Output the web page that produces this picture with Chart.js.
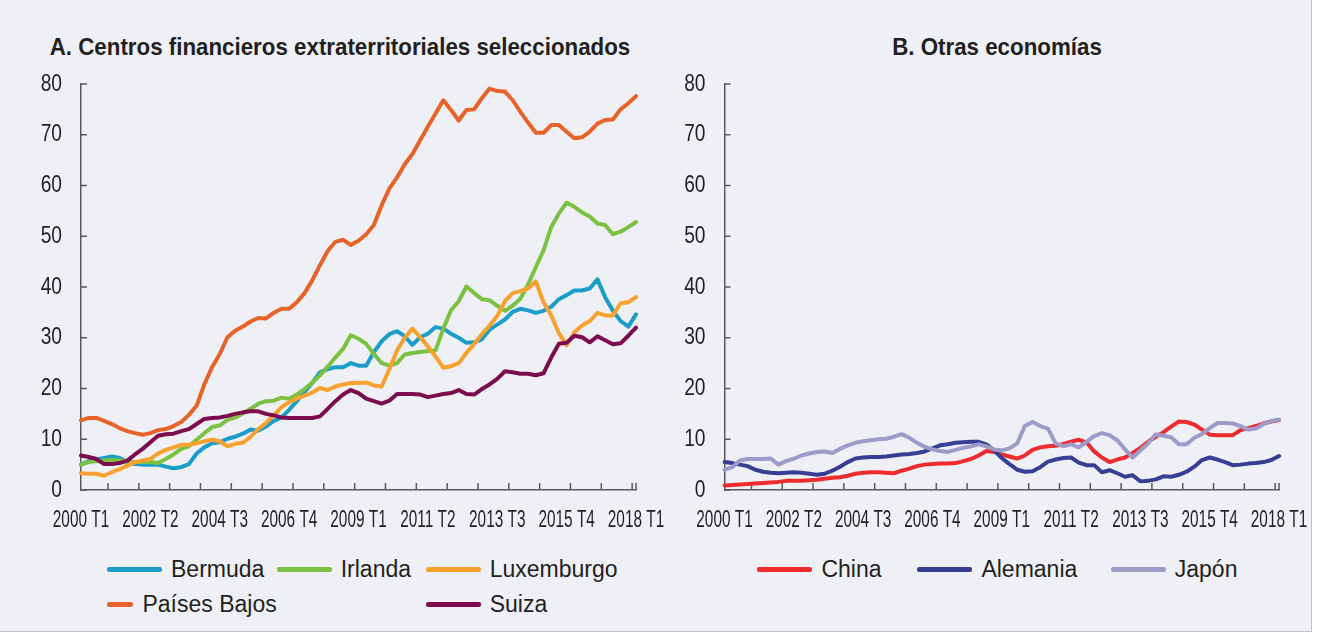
<!DOCTYPE html>
<html>
<head>
<meta charset="utf-8">
<script src="https://cdn.jsdelivr.net/npm/chart.js@4.4.1/dist/chart.umd.min.js"></script>
<style>
  body {
    margin: 0;
    width: 1319px;
    height: 636px;
    overflow: hidden;
    position: relative;
    background: #ffffff;
    font-family: "Liberation Sans", Arial, sans-serif;
    color: #231f20;
  }
  .frame {
    position: absolute;
    left: 0;
    top: 0;
    width: 1311px;
    height: 631px;
    background: #eef0f5;
    border-right: 1px solid #bfc1c6;
    border-bottom: 1px solid #bfc1c6;
  }
  .title {
    position: absolute;
    top: 33px;
    font-weight: bold;
    font-size: 24px;
    line-height: 28px;
    text-align: center;
    white-space: nowrap;
    transform: scaleX(0.93);
  }
  .panel { position: absolute; top: 0; }
  .legend {
    position: absolute;
    top: 552px;
    display: grid;
    grid-auto-rows: 35px;
    font-size: 23px;
  }
  .legend .item { display: flex; align-items: center; white-space: nowrap; }
  .legend .swatch {
    display: inline-block;
    width: 55px;
    height: 4.5px;
    border-radius: 2px;
    margin-right: 9px;
  }
</style>
</head>
<body>
<div class="frame"></div>
<div class="title" style="left:0; width:680px;">A. Centros financieros extraterritoriales seleccionados</div>
<div class="title" style="left:660px; width:674px;">B. Otras economías</div>

<div class="panel" style="left:0;"><canvas id="chartA" width="680" height="545"></canvas></div>
<div class="panel" style="left:640px;"><canvas id="chartB" width="670" height="545"></canvas></div>

<div class="legend" id="legendA" style="left:107px; grid-template-columns:169.7px 149px auto;"></div>
<div class="legend" id="legendB" style="left:757.4px; grid-template-columns:160px 193.4px auto;"></div>

<script>
// quarterly categories 2000 T1 .. 2018 T1
const quarters = [];
for (let yr = 2000; yr <= 2018; yr++) {
  for (let q = 1; q <= 4; q++) {
    if (yr === 2018 && q > 1) break;
    quarters.push(yr + " T" + q);
  }
}
const labelEvery = 9;
const yMax = 80;
const yStep = 10;

// A. Centros financieros extraterritoriales seleccionados
const bermuda = [
  5.0, 5.7, 6.0, 6.3, 6.6, 6.3, 5.5, 5.1, 5.0, 5.0, 5.0, 4.6, 4.3, 4.5, 5.1, 7.2, 8.4, 9.2,
  9.4, 10.1, 10.5, 11.1, 11.9, 11.7, 12.5, 13.6, 14.3, 15.8, 17.5, 19.3, 21.1, 23.2, 23.8, 24.2, 24.2, 25.0,
  24.5, 24.5, 27.2, 29.3, 30.7, 31.3, 30.3, 28.6, 30.1, 30.8, 32.1, 31.8, 30.8, 30.0, 29.0, 29.1, 29.7, 31.6,
  32.6, 33.6, 35.1, 35.7, 35.4, 34.9, 35.3, 36.1, 37.6, 38.4, 39.3, 39.3, 39.7, 41.5, 38.0, 35.3, 33.3, 32.2, 34.6
];
const irlanda = [
  5.0, 5.5, 5.7, 5.8, 5.9, 5.8, 5.6, 5.5, 5.5, 5.5, 5.3, 6.1, 7.0, 8.1, 8.6, 9.9, 11.2, 12.4,
  12.7, 13.8, 14.3, 15.1, 16.0, 17.0, 17.5, 17.6, 18.2, 18.0, 18.8, 19.9, 21.1, 22.6, 24.3, 26.1, 27.8, 30.5,
  29.8, 28.8, 26.8, 25.0, 24.5, 25.0, 26.7, 27.0, 27.2, 27.4, 27.5, 31.8, 35.4, 37.2, 40.1, 38.8, 37.6, 37.4,
  36.3, 35.3, 36.3, 37.7, 40.5, 43.9, 47.2, 51.8, 54.5, 56.6, 55.8, 54.7, 53.9, 52.5, 52.2, 50.4, 50.9, 51.8, 52.8
];
const luxemburgo = [
  3.3, 3.2, 3.2, 2.8, 3.5, 4.1, 4.8, 5.5, 5.8, 6.1, 7.2, 7.9, 8.4, 8.9, 8.9, 9.2, 9.6, 9.9,
  9.6, 8.6, 9.1, 9.3, 10.5, 12.0, 13.2, 14.7, 16.3, 17.3, 18.0, 18.6, 19.2, 20.1, 19.7, 20.4, 20.8, 21.1,
  21.1, 21.2, 20.6, 20.4, 23.8, 27.5, 30.0, 31.8, 30.1, 28.3, 26.3, 24.1, 24.4, 25.0, 27.0, 28.8, 30.7, 32.4,
  34.3, 37.2, 38.8, 39.2, 39.7, 41.1, 37.0, 34.4, 30.9, 28.5, 31.1, 32.4, 33.3, 34.9, 34.4, 34.4, 36.8, 37.0, 38.0
];
const paisesBajos = [
  13.7, 14.2, 14.2, 13.6, 13.0, 12.2, 11.6, 11.2, 10.9, 11.2, 11.8, 12.0, 12.6, 13.4, 14.8, 16.6, 20.8, 24.2,
  26.8, 30.1, 31.4, 32.2, 33.2, 33.9, 33.8, 34.9, 35.7, 35.7, 37.0, 38.8, 41.3, 44.3, 47.1, 48.9, 49.3, 48.3,
  49.1, 50.4, 52.2, 56.1, 59.4, 61.6, 64.2, 66.2, 68.9, 71.6, 74.2, 76.8, 74.9, 72.8, 74.9, 75.0, 77.2, 79.1,
  78.6, 78.5, 76.8, 74.5, 72.4, 70.4, 70.4, 71.9, 71.9, 70.6, 69.3, 69.5, 70.6, 72.2, 72.9, 73.0, 75.0, 76.2, 77.6
];
const suiza = [
  6.8, 6.5, 6.1, 5.1, 5.1, 5.3, 5.8, 7.0, 8.1, 9.4, 10.7, 11.0, 11.1, 11.6, 12.0, 13.0, 14.0, 14.2,
  14.3, 14.6, 15.0, 15.3, 15.5, 15.5, 15.0, 14.7, 14.3, 14.2, 14.2, 14.2, 14.2, 14.5, 16.0, 17.5, 18.8, 19.7,
  19.1, 18.0, 17.5, 17.0, 17.6, 18.9, 18.9, 18.9, 18.8, 18.3, 18.6, 18.9, 19.1, 19.7, 18.9, 18.8, 19.9, 20.8,
  21.9, 23.4, 23.2, 22.9, 22.9, 22.6, 23.0, 26.1, 28.8, 29.0, 30.4, 30.1, 29.1, 30.3, 29.5, 28.7, 28.9, 30.4, 32.0
];

// B. Otras economías
const china = [
  0.9, 1.0, 1.1, 1.2, 1.3, 1.4, 1.5, 1.6, 1.8, 1.8, 1.8, 1.9, 2.0, 2.2, 2.4, 2.5, 2.8, 3.2,
  3.4, 3.5, 3.5, 3.4, 3.3, 3.8, 4.2, 4.7, 5.0, 5.1, 5.2, 5.2, 5.3, 5.7, 6.1, 6.8, 7.7, 7.5,
  7.0, 6.6, 6.2, 6.8, 7.9, 8.4, 8.6, 8.7, 9.1, 9.5, 9.9, 9.4, 7.6, 6.4, 5.5, 6.0, 6.4, 7.3,
  8.3, 9.5, 10.5, 11.4, 12.5, 13.5, 13.4, 12.9, 11.9, 10.9, 10.8, 10.8, 10.8, 11.8, 12.2, 12.6, 13.1, 13.5, 13.8
];
const alemania = [
  5.5, 5.3, 5.0, 4.7, 4.0, 3.6, 3.4, 3.3, 3.4, 3.5, 3.4, 3.2, 3.0, 3.2, 3.8, 4.6, 5.5, 6.2,
  6.4, 6.5, 6.5, 6.6, 6.8, 7.0, 7.1, 7.3, 7.6, 8.2, 8.8, 9.0, 9.3, 9.4, 9.5, 9.5, 9.0, 7.8,
  6.3, 5.1, 4.0, 3.6, 3.7, 4.5, 5.6, 6.0, 6.3, 6.4, 5.4, 4.9, 4.9, 3.5, 3.9, 3.3, 2.6, 2.9,
  1.7, 1.8, 2.1, 2.7, 2.6, 3.0, 3.6, 4.6, 5.9, 6.4, 6.0, 5.5, 4.9, 5.0, 5.2, 5.3, 5.5, 5.9, 6.7
];
const japon = [
  4.0, 4.5, 5.8, 6.1, 6.1, 6.1, 6.2, 5.0, 5.7, 6.2, 6.8, 7.2, 7.5, 7.6, 7.3, 8.1, 8.8, 9.3,
  9.6, 9.8, 10.0, 10.1, 10.5, 11.0, 10.3, 9.3, 8.5, 8.0, 7.7, 7.5, 7.9, 8.3, 8.6, 9.0, 8.6, 8.0,
  7.8, 8.2, 9.2, 12.6, 13.4, 12.6, 12.1, 9.2, 8.6, 9.0, 8.4, 9.5, 10.6, 11.2, 10.8, 9.8, 8.0, 6.4,
  7.8, 9.2, 11.0, 10.7, 10.4, 9.0, 9.0, 10.3, 11.0, 12.2, 13.2, 13.2, 13.1, 12.6, 11.9, 12.1, 13.0, 13.6, 13.9
];

const axisColor = "#5a5a5a";
const tickFont = { family: '"Liberation Sans", Arial, sans-serif', size: 24 };
// the tick labels in the original use a very condensed face
const condenseX = 0.64;
const condenseY = 0.8;

function series(label, data, color, order) {
  return {
    label: label,
    data: data,
    borderColor: color,
    backgroundColor: color,
    borderWidth: 4,
    pointRadius: 0,
    tension: 0,
    borderJoinStyle: "round",
    borderCapStyle: "round",
    order: order,
  };
}

// tick marks point into the plot, yearly on the x axis
const innerTicks = {
  id: "innerTicks",
  beforeDatasetsDraw(chart) {
    const { ctx, chartArea: a, scales: { x, y } } = chart;
    ctx.save();
    ctx.strokeStyle = axisColor;
    ctx.lineWidth = 1.5;
    ctx.beginPath();
    y.ticks.forEach((t) => {
      const py = y.getPixelForValue(t.value);
      ctx.moveTo(a.left, py);
      ctx.lineTo(a.left + 6, py);
    });
    for (let k = 3.5; k < quarters.length; k += 4) {
      const px = x.getPixelForValue(k);
      ctx.moveTo(px, a.bottom);
      ctx.lineTo(px, a.bottom - 7);
    }
    ctx.moveTo(a.right, a.bottom);
    ctx.lineTo(a.right, a.bottom - 7);
    ctx.stroke();
    ctx.restore();
  },
};

// squeeze tick label glyphs horizontally, keeping each label anchored where the scale put it
const condensedLabels = {
  id: "condensedLabels",
  afterUpdate(chart) {
    [["x", condenseX], ["y", condenseY]].forEach(([id, sx]) => {
      const s = chart.scales[id];
      if (s._condensed) return;
      s._condensed = true;
      s._computeLabelArea = () => undefined;
      const draw = s.drawLabels.bind(s);
      s.drawLabels = function (area) {
        const items = this.getLabelItems(area);
        items.forEach((it) => { it.options.translation[0] /= sx; });
        this.ctx.save();
        this.ctx.scale(sx, 1);
        draw(area);
        this.ctx.restore();
        items.forEach((it) => { it.options.translation[0] *= sx; });
      };
    });
  },
};

function makeChart(id, datasets, padLeft, padRight) {
  return new Chart(document.getElementById(id), {
    type: "line",
    data: { labels: quarters, datasets: datasets },
    plugins: [innerTicks, condensedLabels],
    options: {
      responsive: false,
      animation: false,
      devicePixelRatio: 1,
      layout: { padding: { left: padLeft, right: padRight, top: 84, bottom: 10 } },
      plugins: { legend: { display: false }, tooltip: { enabled: false } },
      scales: {
        x: {
          type: "category",
          offset: false,
          grid: { display: false, drawTicks: false },
          border: { color: axisColor, width: 1.5 },
          ticks: {
            autoSkip: false,
            maxRotation: 0,
            padding: 16,
            color: "#231f20",
            font: tickFont,
            callback: (v, i) => (i % labelEvery === 0 ? quarters[i] : ""),
          },
          afterFit: (s) => {
            s.height = 45;
            s.paddingLeft = 0;
            s.paddingRight = 0;
          },
        },
        y: {
          min: 0,
          max: yMax,
          grid: { display: false, drawTicks: false },
          border: { color: axisColor, width: 1.5 },
          ticks: { stepSize: yStep, padding: 19, color: "#231f20", font: tickFont },
          afterFit: (s) => {
            s.width = 61;
            s.paddingTop = 0;
            s.paddingBottom = 0;
          },
        },
      },
    },
  });
}

function buildLegend(chart, el, cells) {
  chart.data.datasets.forEach((ds, i) => {
    const item = document.createElement("div");
    item.className = "item";
    item.style.gridColumn = cells[i][0];
    item.style.gridRow = cells[i][1];
    const sw = document.createElement("span");
    sw.className = "swatch";
    sw.style.background = ds.borderColor;
    const tx = document.createElement("span");
    tx.textContent = ds.label;
    item.appendChild(sw);
    item.appendChild(tx);
    el.appendChild(item);
  });
}

const chartA = makeChart("chartA", [
  series("Bermuda", bermuda, "#1b9dc9", 5),
  series("Irlanda", irlanda, "#7cc242", 4),
  series("Luxemburgo", luxemburgo, "#f9a12e", 3),
  series("Países Bajos", paisesBajos, "#e8632a", 2),
  series("Suiza", suiza, "#7c0c4e", 1),
], 20, 44);

const chartB = makeChart("chartB", [
  series("China", china, "#ee2b2f", 3),
  series("Alemania", alemania, "#383e93", 2),
  series("Japón", japon, "#9e9bcb", 1),
], 23.5, 31);

buildLegend(chartA, document.getElementById("legendA"), [[1, 1], [2, 1], [3, 1], [1, 2], [3, 2]]);
buildLegend(chartB, document.getElementById("legendB"), [[1, 1], [2, 1], [3, 1]]);
</script>
</body>
</html>
